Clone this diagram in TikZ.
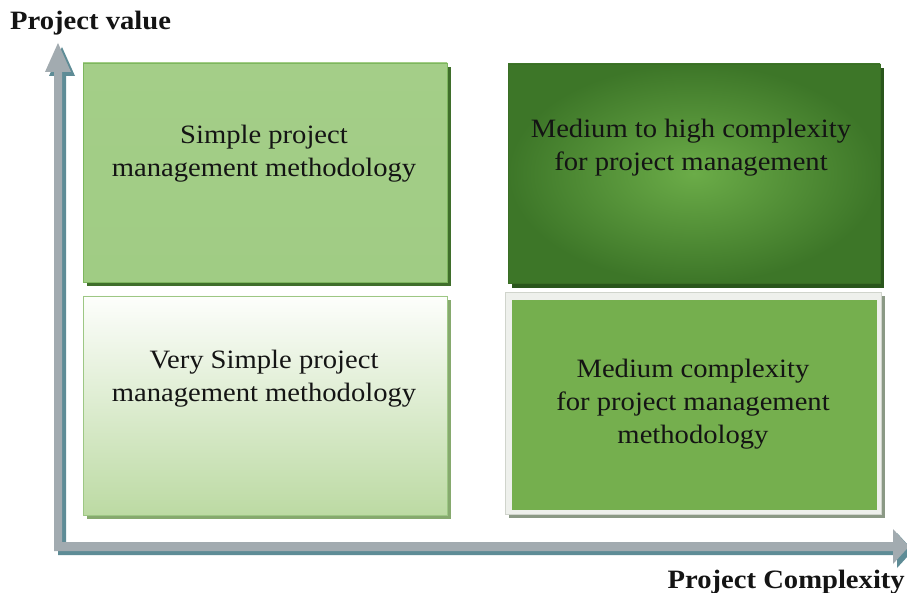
\documentclass[tikz,border=0pt]{standalone}
\usepackage{fontspec}
\setmainfont[FakeStretch=1.08]{Liberation Serif}

% palette
\definecolor{ink}{HTML}{141414}
\definecolor{axisgray}{HTML}{A2ABB0}
\definecolor{axisshade}{HTML}{5E8C96}
\definecolor{tlTop}{HTML}{A4CE88}
\definecolor{tlMid}{HTML}{7AB556}
\definecolor{tlBot}{HTML}{A0CC84}
\definecolor{tlEdge}{HTML}{7DB65E}
\definecolor{tlShadow}{HTML}{3F6E2B}
\definecolor{trIn}{HTML}{6BAC48}
\definecolor{trOut}{HTML}{3D7628}
\definecolor{trEdge}{HTML}{3A6E25}
\definecolor{trShadow}{HTML}{2A561C}
\definecolor{blTop}{HTML}{FDFEFC}
\definecolor{blMid}{HTML}{E6F1DC}
\definecolor{blBot}{HTML}{BCDAA3}
\definecolor{blEdge}{HTML}{9DC784}
\definecolor{blShadow}{HTML}{86A96E}
\definecolor{brFrame}{HTML}{EEF0EC}
\definecolor{brFrameEdge}{HTML}{D0D4CC}
\definecolor{brFill}{HTML}{75AF4E}
\definecolor{brShadow}{HTML}{8B9985}

\newcommand{\quadfont}{\fontsize{26.5pt}{33pt}\selectfont}
\newcommand{\axisoutline}{(58,43) -- (71,72) -- (62,72) -- (62,542) -- (893,542)
  -- (893,529) -- (909,546.5) -- (893,564) -- (893,551) -- (54,551) -- (54,72)
  -- (45,72) -- cycle}

\tikzset{
  quadbox/.style={rectangle, inner sep=0pt, outer sep=0pt, line width=0.8pt,
    minimum width=#1},
  boxtext/.style={align=center, font=\quadfont, text=ink, inner sep=0pt},
  axislabel/.style={font=\quadfont\bfseries, text=ink, inner sep=0pt},
}

\begin{document}
\begin{tikzpicture}[x=1pt, y=-1pt]
\useasboundingbox (0,0) rectangle (907,593);
\fill[white] (0,0) rectangle (907,593);

% axes: teal offset copy under the grey arrows
\fill[axisshade, shift={(4,4)}] \axisoutline;
\fill[axisgray] \axisoutline;

% drop shadows of the four quadrants
\fill[tlShadow] (87,67) rectangle (451,286);
\fill[trShadow] (512,68) rectangle (884,288);
\fill[blShadow] (87,300) rectangle (451,519);
\fill[brShadow] (509,296) rectangle (885,518);

% quadrant boxes
\node[quadbox=364pt, minimum height=219pt, draw=tlEdge,
      top color=tlTop, middle color=tlMid, bottom color=tlBot] (tl) at (265,172.5) {};
\node[quadbox=372pt, minimum height=219pt, draw=trEdge,
      inner color=trIn, outer color=trOut] (tr) at (694,173.5) {};
\node[quadbox=364pt, minimum height=219pt, draw=blEdge,
      top color=blTop, middle color=blMid, bottom color=blBot] (bl) at (265,405.5) {};
\node[quadbox=376pt, minimum height=222pt, draw=brFrameEdge, fill=brFrame] (brframe) at (693,403) {};
\node[quadbox=365pt, minimum height=210pt, fill=brFill] (br) at (694.5,405) {};

% quadrant texts
\node[boxtext] (tltext) at (264,154) {Simple project\\management methodology};
\node[boxtext] (trtext) at (691,148) {Medium to high complexity\\for project management};
\node[boxtext] (bltext) at (264,379) {Very Simple project\\management methodology};
\node[boxtext] (brtext) at (693,404) {Medium complexity\\for project management\\methodology};

% axis titles
\node[axislabel, anchor=base west] (ylabel) at (10,30) {Project value};
\node[axislabel, anchor=base east] (xlabel) at (905,588) {Project Complexity};
\end{tikzpicture}
\end{document}
